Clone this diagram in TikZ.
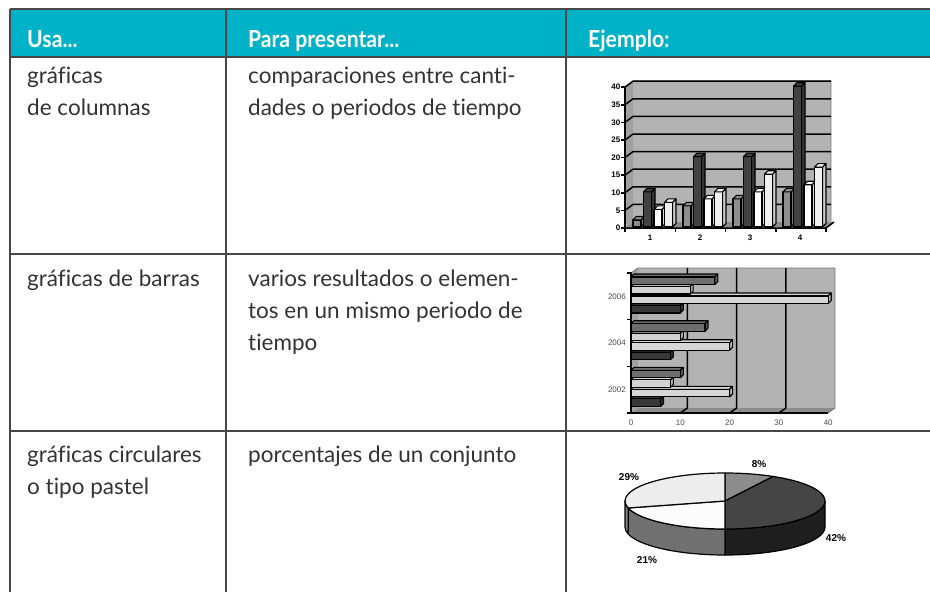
\documentclass[tikz,border=0pt]{standalone}
\usepackage{fontspec}
\setmainfont{Lato}[Ligatures=NoCommon]
\newfontfamily\hdrfont{Lato}[FakeStretch=0.9, Ligatures=NoCommon]
\newfontfamily\chartfont{Liberation Sans}
\definecolor{hdrteal}{HTML}{00B2C7}
\definecolor{rulegray}{HTML}{474747}
\definecolor{txtgray}{HTML}{333333}
\definecolor{wallgray}{HTML}{B3B3B3}
\definecolor{sidegray}{HTML}{A0A0A0}
\definecolor{floorgray}{HTML}{8C8C8C}
\definecolor{cbA}{HTML}{8E8E8E}
\definecolor{cbB}{HTML}{424242}
\definecolor{cbC}{HTML}{FFFFFF}
\definecolor{cbD}{HTML}{F0F0F0}
\definecolor{hbA}{HTML}{6E6E6E}
\definecolor{hbB}{HTML}{D2D2D2}
\definecolor{hbC}{HTML}{D6D6D6}
\definecolor{hbD}{HTML}{383838}
\definecolor{pT8}{HTML}{8C8C8C}
\definecolor{pT42}{HTML}{454545}
\definecolor{pT21}{HTML}{FCFCFC}
\definecolor{pT29}{HTML}{EDEDED}
\definecolor{pS42}{HTML}{1F1F1F}
\definecolor{pS21}{HTML}{717171}
\definecolor{pS29}{HTML}{858585}
\tikzset{
  rule/.style={draw=rulegray, line width=1.6pt},
  body/.style={anchor=base west, inner sep=0pt, text=txtgray, font=\fontsize{22.5}{26}\selectfont},
  hdr/.style={anchor=base west, inner sep=0pt, text=white, font=\hdrfont\bfseries\fontsize{23.5}{27}\selectfont},
  ctick/.style={inner sep=0pt, font=\chartfont\bfseries\fontsize{8}{9}\selectfont},
  htick/.style={inner sep=0pt, text=black!70, font=\chartfont\fontsize{8}{9}\selectfont},
  plab/.style={inner sep=0pt, font=\chartfont\bfseries\fontsize{10}{11}\selectfont},
  gridline/.style={draw=black, line width=1.5pt},
  axisline/.style={draw=black, line width=1.5pt},
  wallline/.style={draw=black!55, line width=0.8pt},
  barline/.style={draw=black, line width=1.1pt, line join=round},
  pieline/.style={draw=black, line width=1.2pt, line join=round},
}
\begin{document}
\begin{tikzpicture}[x=1pt,y=-1pt]
\useasboundingbox (0,0) rectangle (930,592);
\fill[white] (0,0) rectangle (930,592);
% header band
\fill[hdrteal] (10,9) rectangle (930,57);
% table rules
\draw[rule] (10,9) -- (930,9);
\draw[rule] (10,57) -- (930,57);
\draw[rule] (10,254) -- (930,254);
\draw[rule] (10,431) -- (930,431);
\draw[rule] (10,9) -- (10,592);
\draw[rule] (226,9) -- (226,592);
\draw[rule] (566,9) -- (566,592);
% header texts
\node[hdr] (h1) at (27,47) {Usa...};
\node[hdr] (h2) at (248,47) {Para presentar...};
\node[hdr] (h3) at (588,47) {Ejemplo:};
% row 1
\node[body] (r1a) at (27,83) {gráficas};
\node[body] (r1b) at (27,115) {de columnas};
\node[body] (r1c) at (248,83) {comparaciones entre canti-};
\node[body] (r1d) at (248,115) {dades o periodos de tiempo};
% row 2
\node[body] (r2a) at (27,286) {gráficas de barras};
\node[body] (r2b) at (248,286) {varios resultados o elemen-};
\node[body] (r2c) at (248,318) {tos en un mismo periodo de};
\node[body] (r2d) at (248,350) {tiempo};
% row 3
\node[body] (r3a) at (27,462) {gráficas circulares};
\node[body] (r3b) at (27,494) {o tipo pastel};
\node[body] (r3c) at (248,462) {porcentajes de un conjunto};

% ---------- column chart ----------
\fill[wallgray] (633,81) rectangle (831,222);
\fill[sidegray] (625,228) -- (633,222) -- (633,81) -- (625,87) -- cycle;
\fill[floorgray] (625,228) -- (826,228) -- (834,222) -- (633,222) -- cycle;
\draw[wallline] (625,87) -- (633,81) -- (831,81) -- (831,222);
\foreach \v in {5,10,...,40}{
  \draw[gridline] (625,228-3.52*\v) -- (633,222-3.52*\v) -- (831,222-3.52*\v);
}
\draw[axisline] (625,228) -- (625,86);
\foreach \v in {0,5,...,40}{
  \draw[axisline] (621,228-3.52*\v) -- (625,228-3.52*\v);
  \node[ctick, anchor=east] (cy\v) at (620.5,228-3.52*\v) {\v};
}
\foreach \g/\va/\vb/\vc/\vd in {0/2/10/5/7,1/6/20/8/10,2/8/20/10/15,3/10/40/12/17}{
  \foreach \v/\k/\c in {\va/0/cbA,\vb/1/cbB,\vc/2/cbC,\vd/3/cbD}{
    \pgfmathsetmacro\xx{633+50*\g+10.5*\k}
    \pgfmathsetmacro\yt{227-3.52*\v}
    \draw[barline,fill=\c!85!black] (\xx+8,227) -- (\xx+11.5,223.5) -- (\xx+11.5,\yt-3.5) -- (\xx+8,\yt) -- cycle;
    \draw[barline,fill=\c] (\xx,227) rectangle (\xx+8,\yt);
    \draw[barline,fill=\c] (\xx,\yt) -- (\xx+3.5,\yt-3.5) -- (\xx+11.5,\yt-3.5) -- (\xx+8,\yt) -- cycle;
  }
}
\draw[axisline] (625,228) -- (826,228) -- (834,222);
\foreach \t in {0,1,2,3,4}{
  \draw[axisline] (625+50.25*\t,228) -- (625+50.25*\t,232);
}
\foreach \n in {1,2,3,4}{
  \node[ctick] (cx\n) at (600+50*\n,238) {\n};
}

% ---------- bar chart ----------
\fill[wallgray] (638,268) rectangle (835,408);
\fill[sidegray] (631,413) -- (638,408) -- (638,268) -- (631,273) -- cycle;
\fill[floorgray] (631,413) -- (828,413) -- (835,408) -- (638,408) -- cycle;
\draw[wallline] (631,273) -- (638,268) -- (835,268) -- (835,408) -- (828,413);
\foreach \t in {1,2,3}{
  \draw[gridline] (631+49.3*\t,413) -- (638+49.3*\t,408) -- (638+49.3*\t,268);
}
\draw[axisline] (631,413) -- (631,272);
\foreach \t in {0,1,2,3}{
  \draw[axisline] (627,413-46.67*\t) -- (631,413-46.67*\t);
}
\foreach \gi/\lab/\va/\vb/\vc/\vd in {2/2002/10/8/20/6,1/2004/15/10/20/8,0/2006/17/12/40/10}{
  \node[htick, anchor=east] (bl\lab) at (626,296.5+46.7*\gi) {\lab};
  \foreach \v/\k/\c in {\vd/3/hbD,\vc/2/hbC,\vb/1/hbB,\va/0/hbA}{
    \pgfmathsetmacro\yb{277+46.7*\gi+9.5*\k}
    \pgfmathsetmacro\xe{631+4.93*\v}
    \draw[barline,fill=\c] (631,\yb) -- (634,\yb-3) -- (\xe+3,\yb-3) -- (\xe,\yb) -- cycle;
    \draw[barline,fill=\c!85!black] (\xe,\yb) -- (\xe+3,\yb-3) -- (\xe+3,\yb+4.5) -- (\xe,\yb+7.5) -- cycle;
    \draw[barline,fill=\c] (631,\yb) rectangle (\xe,\yb+7.5);
  }
}
\draw[axisline] (631,413) -- (828,413);
\foreach \t in {0,1,2,3,4}{
  \pgfmathtruncatemacro\lv{10*\t}
  \node[htick] (bx\t) at (631+49.3*\t,423) {\lv};
}

% ---------- pie chart ----------
\begin{scope}[shift={(725,501)}, yscale=-1]
  \draw[pieline, fill=pS42] (0:100 and 28) arc[start angle=0, end angle=-90, x radius=100, y radius=28] -- ++(0,-26) arc[start angle=-90, end angle=0, x radius=100, y radius=28] -- cycle;
  \draw[pieline, fill=pS21] (-90:100 and 28) arc[start angle=-90, end angle=-165.6, x radius=100, y radius=28] -- ++(0,-26) arc[start angle=-165.6, end angle=-90, x radius=100, y radius=28] -- cycle;
  \draw[pieline, fill=pS29] (-165.6:100 and 28) arc[start angle=-165.6, end angle=-180, x radius=100, y radius=28] -- ++(0,-26) arc[start angle=-180, end angle=-165.6, x radius=100, y radius=28] -- cycle;
  \draw[pieline, fill=pT8] (0,0) -- (90:100 and 28) arc[start angle=90, end angle=61.2, x radius=100, y radius=28] -- cycle;
  \draw[pieline, fill=pT42] (0,0) -- (61.2:100 and 28) arc[start angle=61.2, end angle=-90, x radius=100, y radius=28] -- cycle;
  \draw[pieline, fill=pT21] (0,0) -- (-90:100 and 28) arc[start angle=-90, end angle=-165.6, x radius=100, y radius=28] -- cycle;
  \draw[pieline, fill=pT29] (0,0) -- (-165.6:100 and 28) arc[start angle=-165.6, end angle=-270, x radius=100, y radius=28] -- cycle;
\end{scope}
\node[plab] (p8) at (759,464) {8\%};
\node[plab] (p29) at (629,477) {29\%};
\node[plab] (p42) at (836,538) {42\%};
\node[plab] (p21) at (647,560) {21\%};
\end{tikzpicture}
\end{document}
